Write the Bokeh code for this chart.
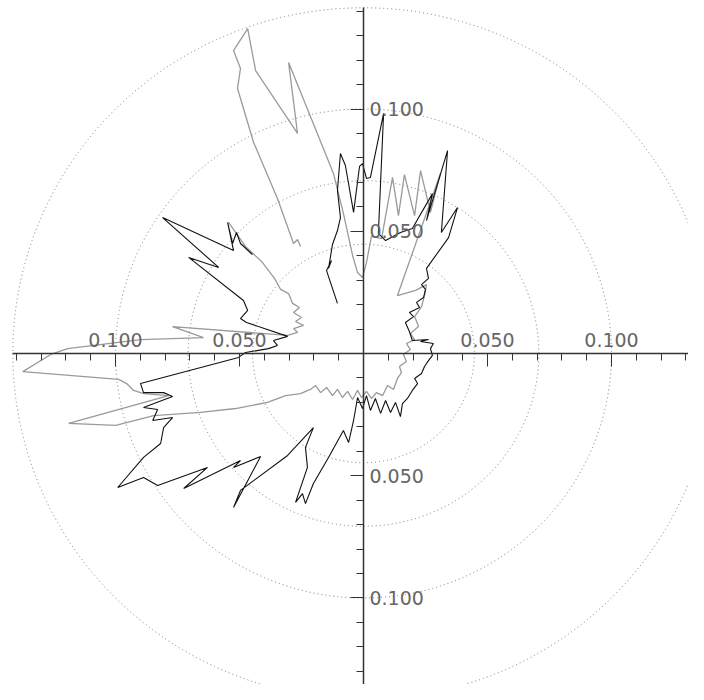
import numpy as np
from bokeh.plotting import figure
from bokeh.models import Range1d, LinearAxis, FixedTicker, CustomJSTickFormatter
from bokeh.embed import file_html
from bokeh.resources import INLINE

NAN = float("nan")

# reference rings (radius) and axis ticks
ring_radii = [0.0447, 0.0707, 0.1000, 0.1414]
axis_extent = 0.1414
major_ticks = [-0.10, -0.05, 0.05, 0.10]
minor_ticks = [-0.14, -0.13, -0.12, -0.11, -0.10, -0.09, -0.08, -0.07, -0.06, -0.05,
               -0.04, -0.03, -0.02, -0.01, 0.0, 0.01, 0.02, 0.03, 0.04, 0.05,
               0.06, 0.07, 0.08, 0.09, 0.10, 0.11, 0.12, 0.13, 0.14]

# gray series (east / north components)
gray_x = [-0.1261, -0.1374, -0.0987, -0.0955, -0.0927, -0.0886, -0.0786, -0.1189, -0.0999, -0.0846,
          -0.0657, -0.0516, -0.0387, -0.0314, -0.0254, -0.0214, -0.0193, -0.0173, -0.0149, -0.0125,
          -0.0105, -0.0085, -0.0064, -0.0044, -0.0024, -0.0008, 0.0012, 0.0032, 0.0052, 0.0077,
          0.0097, 0.0121, 0.0137, 0.0153, 0.0145, 0.0173, 0.0161, 0.0189, 0.0173, 0.0206,
          0.0189, 0.0222, 0.0206, 0.0234, 0.0246, 0.0254, 0.0210, 0.0137, 0.0310, 0.0270,
          0.0230, 0.0206, 0.0165, 0.0141, 0.0117, 0.0073, 0.0032, 0.0012, -0.0004, -0.0024,
          -0.0044, -0.0081, -0.0121, -0.0302, -0.0266, -0.0435, -0.0467, -0.0524, -0.0496, -0.0508,
          -0.0443, -0.0347, -0.0282, -0.0266, -0.0254, NAN, -0.0544, -0.0476, -0.0407, -0.0359,
          -0.0334, -0.0302, -0.0286, -0.0258, -0.0282, -0.0250, -0.0274, -0.0242, -0.0282, -0.0266,
          -0.0306, -0.0770, -0.0645, -0.0899, -0.1193, -0.1261]
gray_y = [-0.0004, -0.0074, -0.0106, -0.0123, -0.0151, -0.0164, -0.0172, -0.0286, -0.0294, -0.0254,
          -0.0241, -0.0225, -0.0200, -0.0172, -0.0164, -0.0147, -0.0131, -0.0160, -0.0139, -0.0172,
          -0.0147, -0.0180, -0.0155, -0.0188, -0.0151, -0.0180, -0.0155, -0.0184, -0.0160, -0.0172,
          -0.0131, -0.0147, -0.0102, -0.0078, -0.0053, -0.0033, -0.0004, 0.0016, 0.0041, 0.0057,
          0.0082, 0.0110, 0.0151, 0.0192, 0.0237, 0.0282, 0.0258, 0.0237, 0.0736, 0.0577,
          0.0748, 0.0564, 0.0732, 0.0564, 0.0720, 0.0470, 0.0479, 0.0372, 0.0311, 0.0331,
          0.0401, 0.0573, 0.0736, 0.1190, 0.0900, 0.1157, 0.1329, 0.1239, 0.1166, 0.1084,
          0.0863, 0.0634, 0.0450, 0.0466, 0.0438, NAN, 0.0536, 0.0438, 0.0372, 0.0307,
          0.0262, 0.0245, 0.0205, 0.0188, 0.0168, 0.0147, 0.0131, 0.0115, 0.0102, 0.0086,
          0.0074, 0.0110, 0.0065, 0.0057, 0.0020, -0.0004]

# black series (east / north components)
black_x = [-0.0504, -0.0899, -0.0887, -0.0806, -0.0770, -0.0887, -0.0830, -0.0850, -0.0770, -0.0806,
           -0.0818, -0.0887, -0.0991, -0.0887, -0.0830, -0.0629, -0.0725, -0.0496, -0.0524, -0.0415,
           -0.0524, -0.0496, -0.0306, -0.0202, -0.0234, -0.0226, -0.0274, -0.0246, -0.0234, -0.0202,
           -0.0141, -0.0081, -0.0060, -0.0040, -0.0024, -0.0004, 0.0012, 0.0028, 0.0048, 0.0069,
           0.0089, 0.0109, 0.0129, 0.0149, 0.0157, 0.0177, 0.0197, 0.0218, 0.0206, 0.0234,
           0.0246, 0.0262, 0.0278, 0.0270, 0.0282, 0.0230, 0.0262, 0.0197, 0.0185, 0.0169,
           0.0202, 0.0185, 0.0226, 0.0214, 0.0242, 0.0250, 0.0234, 0.0262, 0.0254, 0.0343,
           0.0379, 0.0314, 0.0339, 0.0254, 0.0278, 0.0197, 0.0149, 0.0089, 0.0060, 0.0081,
           0.0028, 0.0012, -0.0004, -0.0016, -0.0040, -0.0073, -0.0093, -0.0105, -0.0093, -0.0105,
           -0.0125, -0.0141, -0.0129, -0.0149, -0.0105, NAN, -0.0448, -0.0496, -0.0512, -0.0528,
           -0.0548, -0.0524, -0.0810, -0.0584, -0.0705, -0.0484, -0.0467, -0.0496, -0.0472, -0.0306,
           -0.0363, -0.0347, -0.0383, -0.0476, -0.0504]
black_y = [-0.0016, -0.0123, -0.0160, -0.0160, -0.0176, -0.0221, -0.0229, -0.0274, -0.0262, -0.0303,
           -0.0368, -0.0425, -0.0548, -0.0507, -0.0540, -0.0466, -0.0552, -0.0438, -0.0466, -0.0421,
           -0.0630, -0.0560, -0.0417, -0.0303, -0.0384, -0.0466, -0.0609, -0.0573, -0.0614, -0.0532,
           -0.0425, -0.0315, -0.0364, -0.0274, -0.0180, -0.0225, -0.0172, -0.0233, -0.0184, -0.0245,
           -0.0192, -0.0241, -0.0200, -0.0258, -0.0205, -0.0184, -0.0151, -0.0123, -0.0102, -0.0082,
           -0.0053, -0.0029, -0.0008, 0.0020, 0.0041, 0.0049, 0.0057, 0.0053, 0.0090, 0.0127,
           0.0151, 0.0168, 0.0188, 0.0209, 0.0229, 0.0262, 0.0282, 0.0307, 0.0348, 0.0474,
           0.0597, 0.0495, 0.0830, 0.0544, 0.0654, 0.0511, 0.0495, 0.0462, 0.0491, 0.0982,
           0.0720, 0.0716, 0.0777, 0.0765, 0.0577, 0.0769, 0.0818, 0.0667, 0.0556, 0.0503,
           0.0446, 0.0348, 0.0380, 0.0339, 0.0205, NAN, 0.0405, 0.0450, 0.0495, 0.0450,
           0.0536, 0.0421, 0.0556, 0.0352, 0.0393, 0.0217, 0.0176, 0.0143, 0.0127, 0.0070,
           0.0053, 0.0033, 0.0020, 0.0004, -0.0016]

p = figure(width=688, height=684,
           x_range=Range1d(-0.14637, 0.13105), y_range=Range1d(-0.13538, 0.14438),
           output_backend="svg", toolbar_location=None, min_border=0,
           x_axis_location=None, y_axis_location=None)
p.grid.visible = False
p.outline_line_color = None
p.background_fill_color = "white"
p.border_fill_color = "white"

# dotted rings
p.ellipse(x=[0.0] * len(ring_radii), y=[0.0] * len(ring_radii),
          width=[2 * r for r in ring_radii], height=[2 * r for r in ring_radii],
          fill_color=None, line_color="#7a7a7a", line_width=1, line_dash="1 3")

# series
p.line(np.array(gray_x), np.array(gray_y), line_color="#9a9a9a", line_width=1.3)
p.line(np.array(black_x), np.array(black_y), line_color="#111111", line_width=1.1)

fmt = CustomJSTickFormatter(code="return Math.abs(tick).toFixed(3);")

axis_style = dict(
    bounds=(-axis_extent, axis_extent),
    major_tick_in=13, major_tick_out=0, minor_tick_in=7, minor_tick_out=0,
    axis_line_color="#333333", axis_line_width=1.5,
    major_tick_line_color="#333333", minor_tick_line_color="#333333",
    major_tick_line_width=1, minor_tick_line_width=1,
    major_label_text_font="DejaVu Sans", major_label_text_font_size="19px",
    major_label_text_color="#666666",
)

xa = LinearAxis(fixed_location=0,
                ticker=FixedTicker(ticks=major_ticks, minor_ticks=minor_ticks),
                formatter=fmt, major_label_standoff=7, **axis_style)
p.add_layout(xa, "above")

ya = LinearAxis(fixed_location=0,
                ticker=FixedTicker(ticks=major_ticks, minor_ticks=minor_ticks),
                formatter=fmt, major_label_standoff=6, **axis_style)
p.add_layout(ya, "right")

open("out.html", "w").write(file_html(p, INLINE))
